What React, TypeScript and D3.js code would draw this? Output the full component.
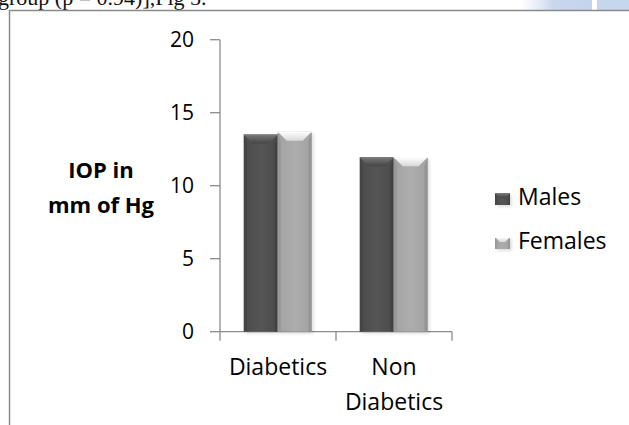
import React from "react";
import * as d3 from "d3";

// Mean IOP (mm of Hg) by group and sex
const categories = ["Diabetics", "Non Diabetics"];
const seriesNames = ["Males", "Females"];
const males = [13.5, 11.95];
const females = [13.7, 11.95];
const yTicks = [0, 5, 10, 15, 20];

const W = 629;
const H = 425;
const FONT = "'Open Sans', sans-serif";

const palette: Record<string, { dark: string; mid: string; light: string; top: string; topEdge: string }> = {
  Males: { dark: "#3f3f3f", mid: "#555555", light: "#4b4b4b", top: "#444444", topEdge: "#7a7a7a" },
  Females: { dark: "#8f8f8f", mid: "#adadad", light: "#a2a2a2", top: "#d8d8d8", topEdge: "#ffffff" },
};

function BevelBar({ x, y, w, h, name, bevel }: { x: number; y: number; w: number; h: number; name: string; bevel: number }) {
  const c = palette[name];
  const id = `grad-${name}`;
  return (
    <g>
      <rect x={x + 2} y={y + 2} width={w} height={h} fill="#000" opacity={0.12} filter="url(#soft)" />
      <rect x={x} y={y} width={w} height={h} fill={`url(#${id})`} />
      {/* side bevels */}
      <polygon points={`${x},${y} ${x + bevel * 0.35},${y + bevel} ${x + bevel * 0.35},${y + h} ${x},${y + h}`} fill={c.dark} opacity={0.55} />
      <polygon points={`${x + w},${y} ${x + w - bevel * 0.35},${y + bevel} ${x + w - bevel * 0.35},${y + h} ${x + w},${y + h}`} fill={c.dark} opacity={0.7} />
      {/* top bevel */}
      <polygon
        points={`${x},${y} ${x + w},${y} ${x + w - bevel},${y + bevel} ${x + bevel},${y + bevel}`}
        fill={`url(#top-${name})`}
      />
      <line x1={x} x2={x + w} y1={y + 0.5} y2={y + 0.5} stroke={c.topEdge} strokeWidth={1} />
    </g>
  );
}

export default function App() {
  const y = d3.scaleLinear().domain([0, 20]).range([331.7, 39.7]);
  const x0 = d3.scaleBand<string>().domain(categories).range([220, 452]).padding(0);
  const bw = x0.bandwidth();
  const x1 = d3
    .scaleBand<string>()
    .domain(seriesNames)
    .range([bw * 0.205, bw * 0.79])
    .padding(0);
  const values: Record<string, number[]> = { Males: males, Females: females };
  const axisColor = "#8c8c8c";
  const xTickPositions = [...categories.map((c) => x0(c) as number), 452];

  return (
    <svg width={W} height={H} style={{ position: "absolute", left: 0, top: 0 }}>
      <defs>
        <filter id="soft" x="-20%" y="-20%" width="140%" height="140%">
          <feGaussianBlur stdDeviation="1.5" />
        </filter>
        {seriesNames.map((s) => (
          <React.Fragment key={s}>
            <linearGradient id={`grad-${s}`} x1="0" x2="1" y1="0" y2="0">
              <stop offset="0" stopColor={palette[s].light} />
              <stop offset="0.5" stopColor={palette[s].mid} />
              <stop offset="1" stopColor={palette[s].light} />
            </linearGradient>
            <linearGradient id={`top-${s}`} x1="0" x2="0" y1="0" y2="1">
              <stop offset="0" stopColor={palette[s].topEdge} />
              <stop offset="1" stopColor={palette[s].top} />
            </linearGradient>
          </React.Fragment>
        ))}
        <linearGradient id="wm" x1="0" x2="1" y1="0" y2="0">
          <stop offset="0" stopColor="#dfe8f5" stopOpacity={0} />
          <stop offset="0.45" stopColor="#c8d7ee" />
          <stop offset="1" stopColor="#c4d4ec" />
        </linearGradient>
      </defs>

      <rect width={W} height={H} fill="#fff" />

      {/* running text from the page above */}
      <text x={-2} y={5} fontFamily="'Liberation Serif', serif" fontSize={22} fill="#111">
        group (p = 0.94)],Fig 5.
      </text>

      {/* faint page decoration top-right */}
      <rect x={520} y={0} width={72} height={10} fill="url(#wm)" />
      <rect x={597} y={0} width={32} height={10} fill="#c6d6ed" />

      {/* outer frame */}
      <line x1={9.5} x2={9.5} y1={10} y2={H} stroke="#8a8a8a" strokeWidth={1.5} />
      <line x1={9} x2={W} y1={10.5} y2={10.5} stroke="#8a8a8a" strokeWidth={1.5} />

      {/* y axis */}
      <line x1={220} x2={220} y1={y(20)} y2={y(0)} stroke={axisColor} strokeWidth={1.3} />
      {yTicks.map((t) => (
        <g key={t}>
          <line x1={210} x2={220} y1={y(t)} y2={y(t)} stroke={axisColor} strokeWidth={1.3} />
          <text x={194} y={y(t)} dy="0.35em" textAnchor="end" fontFamily={FONT} fontSize={21} fill="#000">
            {t}
          </text>
        </g>
      ))}

      {/* x axis */}
      <line x1={220} x2={452} y1={y(0)} y2={y(0)} stroke={axisColor} strokeWidth={1.3} />
      {xTickPositions.map((p, i) => (
        <line key={i} x1={p} x2={p} y1={y(0)} y2={y(0) + 9} stroke={axisColor} strokeWidth={1.3} />
      ))}

      {/* bars */}
      {categories.map((c, ci) =>
        seriesNames.map((s) => {
          const v = values[s][ci];
          const bx = (x0(c) as number) + (x1(s) as number);
          return (
            <BevelBar key={c + s} x={bx} y={y(v)} w={x1.bandwidth()} h={y(0) - y(v)} name={s} bevel={9} />
          );
        })
      )}

      {/* category labels */}
      {categories.map((c) => {
        const cx = (x0(c) as number) + bw / 2;
        const words = c === "Non Diabetics" ? ["Non", "Diabetics"] : [c];
        return (
          <text key={c} textAnchor="middle" fontFamily={FONT} fontSize={23} fill="#000">
            {words.map((wd, i) => (
              <tspan key={i} x={cx} y={375 + i * 35}>
                {wd}
              </tspan>
            ))}
          </text>
        );
      })}

      {/* y axis title */}
      <text textAnchor="middle" fontFamily={FONT} fontSize={22} fontWeight="bold" fill="#000">
        <tspan x={101} y={178}>IOP in</tspan>
        <tspan x={101} y={213}>mm of Hg</tspan>
      </text>

      {/* legend */}
      {seriesNames.map((s, i) => {
        const ly = 193 + i * 44;
        return (
          <g key={s}>
            <BevelBar x={495} y={ly} w={15} h={12} name={s} bevel={5} />
            <text x={518} y={ly + 12} fontFamily={FONT} fontSize={23} fill="#000">
              {s}
            </text>
          </g>
        );
      })}
    </svg>
  );
}
